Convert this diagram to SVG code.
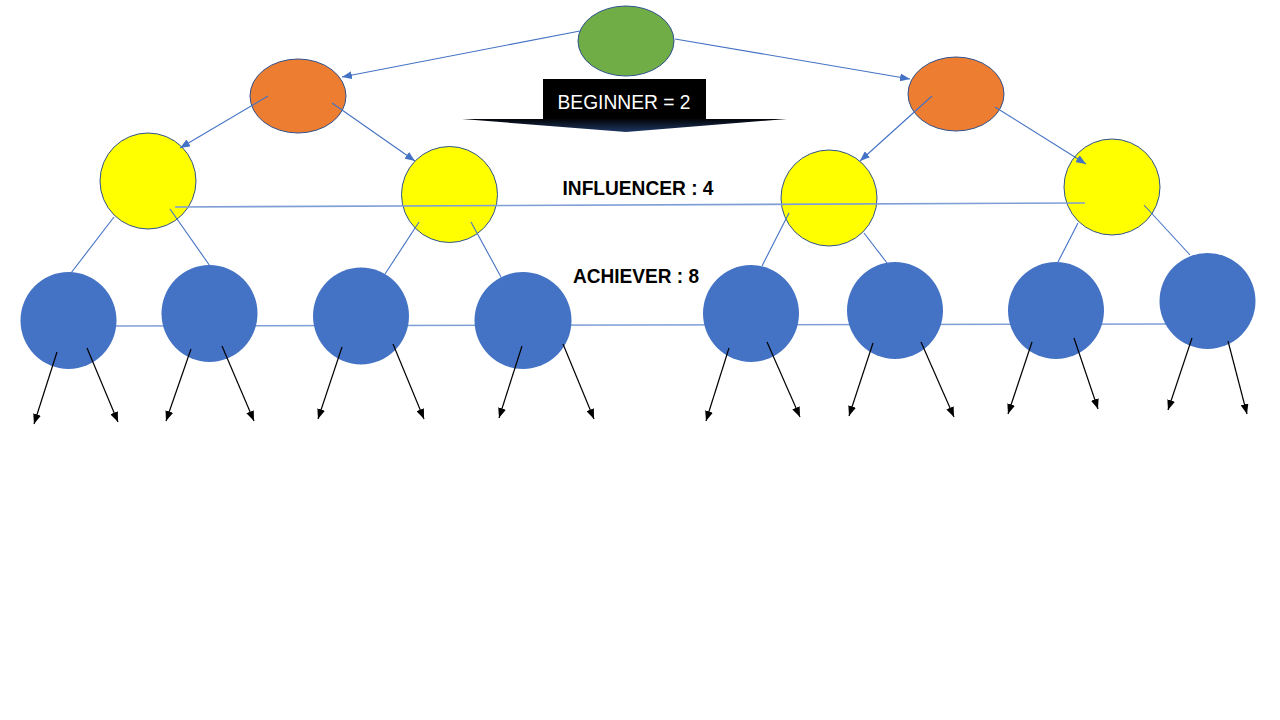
<svg xmlns="http://www.w3.org/2000/svg" width="1280" height="720" viewBox="0 0 1280 720">
  <style>
    .green { fill: #70AD47; stroke: #2F528F; stroke-width: 1; }
    .orange { fill: #ED7D31; stroke: #2F528F; stroke-width: 1; }
    .yellow { fill: #FFFF00; stroke: #2F528F; stroke-width: 1; }
    .blue { fill: #4472C4; stroke: none; }
    .bl { stroke: #4472C4; stroke-width: 1.1; fill: none; }
    .blA { stroke: #4472C4; stroke-width: 1.1; fill: none; marker-end: url(#blueArrow); }
    .hl { stroke: #7F9ED6; stroke-width: 1.6; fill: none; }
    .kA { stroke: #000; stroke-width: 1.2; fill: none; marker-end: url(#blackArrow); }
    .lbl { font-family: "Liberation Sans", Arial, sans-serif; font-weight: bold; font-size: 21px; fill: #000; }
    .wlbl { font-family: "Liberation Sans", Arial, sans-serif; font-size: 21px; fill: #fff; }
  </style>
  <defs>
    <marker id="blueArrow" markerUnits="userSpaceOnUse" markerWidth="10" markerHeight="8" refX="10" refY="4" orient="auto">
      <path d="M0,0 L10,4 L0,8 z" fill="#4472C4"/>
    </marker>
    <marker id="blackArrow" markerUnits="userSpaceOnUse" markerWidth="10" markerHeight="8" refX="10" refY="4" orient="auto">
      <path d="M0,0 L10,4 L0,8 z" fill="#000"/>
    </marker>
    <linearGradient id="wing" gradientUnits="userSpaceOnUse" x1="0" y1="118" x2="0" y2="132">
      <stop offset="0" stop-color="#000"/>
      <stop offset="1" stop-color="#1F3864"/>
    </linearGradient>
  </defs>
  <rect width="1280" height="720" fill="#fff"/>

  <g id="connectors-back">
    <line class="hl" x1="100" y1="326" x2="1180" y2="324"/>
  </g>

  <g id="label-beginner">
    <polygon points="543,79 706,79 706,119 787,119 626,132 462,119 543,119" fill="url(#wing)"/>
    <rect x="543" y="79" width="163" height="40" fill="#000"/>
    <text class="wlbl" x="624" y="109" text-anchor="middle" textLength="133" lengthAdjust="spacingAndGlyphs">BEGINNER = 2</text>
  </g>

  <g id="node-root"><ellipse class="green" cx="626" cy="41" rx="48" ry="35"/></g>
  <g id="node-o1"><ellipse class="orange" cx="298" cy="96" rx="48" ry="37"/></g>
  <g id="node-o2"><ellipse class="orange" cx="956" cy="94" rx="48" ry="37"/></g>

  <g id="node-y1"><circle class="yellow" cx="148" cy="181" r="48"/></g>
  <g id="node-y2"><circle class="yellow" cx="449.5" cy="194.5" r="48"/></g>
  <g id="node-y3"><circle class="yellow" cx="829" cy="198" r="48"/></g>
  <g id="node-y4"><circle class="yellow" cx="1112" cy="187" r="48"/></g>

  <g id="node-b1"><ellipse class="blue" cx="68.5" cy="320.5" rx="48" ry="48.5"/></g>
  <g id="node-b2"><ellipse class="blue" cx="209.5" cy="313.5" rx="48" ry="48.5"/></g>
  <g id="node-b3"><ellipse class="blue" cx="361" cy="316" rx="48" ry="48.5"/></g>
  <g id="node-b4"><ellipse class="blue" cx="523" cy="320.5" rx="48.5" ry="48.5"/></g>
  <g id="node-b5"><ellipse class="blue" cx="751" cy="313.5" rx="48" ry="48.5"/></g>
  <g id="node-b6"><ellipse class="blue" cx="895" cy="310.5" rx="48" ry="48.5"/></g>
  <g id="node-b7"><ellipse class="blue" cx="1056" cy="310.5" rx="48" ry="48.5"/></g>
  <g id="node-b8"><ellipse class="blue" cx="1207.5" cy="301" rx="48" ry="48"/></g>

  <g id="label-influencer">
    <text class="lbl" x="638" y="195" text-anchor="middle" textLength="151" lengthAdjust="spacingAndGlyphs">INFLUENCER : 4</text>
  </g>
  <g id="label-achiever">
    <text class="lbl" x="636" y="283" text-anchor="middle" textLength="126" lengthAdjust="spacingAndGlyphs">ACHIEVER : 8</text>
  </g>

  <g id="connectors">
    <line class="blA" x1="580" y1="31" x2="342" y2="77"/>
    <line class="blA" x1="675" y1="39" x2="910" y2="79"/>
    <line class="blA" x1="268" y1="96" x2="180" y2="148"/>
    <line class="blA" x1="332" y1="103" x2="415" y2="161"/>
    <line class="blA" x1="932" y1="96" x2="860" y2="161"/>
    <line class="blA" x1="995" y1="107" x2="1086" y2="164"/>

    <line class="hl" x1="175" y1="207" x2="1085" y2="203"/>

    <line class="bl" x1="114" y1="217" x2="71" y2="273"/>
    <line class="bl" x1="170" y1="209" x2="210" y2="266"/>
    <line class="bl" x1="419" y1="222" x2="385" y2="274"/>
    <line class="bl" x1="471" y1="222" x2="501" y2="277"/>
    <line class="bl" x1="789" y1="213" x2="762" y2="266"/>
    <line class="bl" x1="864" y1="233" x2="887" y2="263"/>
    <line class="bl" x1="1078" y1="223" x2="1058" y2="262"/>
    <line class="bl" x1="1144" y1="205" x2="1190" y2="255"/>

    <line class="kA" x1="57" y1="352" x2="34" y2="424"/>
    <line class="kA" x1="87" y1="348" x2="118" y2="422"/>
    <line class="kA" x1="191" y1="349" x2="166" y2="421"/>
    <line class="kA" x1="222" y1="346" x2="254" y2="421"/>
    <line class="kA" x1="342" y1="347" x2="318" y2="419"/>
    <line class="kA" x1="393" y1="344" x2="424" y2="419"/>
    <line class="kA" x1="522" y1="346" x2="499" y2="418"/>
    <line class="kA" x1="563" y1="344" x2="594" y2="419"/>
    <line class="kA" x1="729" y1="348" x2="706" y2="421"/>
    <line class="kA" x1="767" y1="342" x2="800" y2="417"/>
    <line class="kA" x1="873" y1="343" x2="849" y2="416"/>
    <line class="kA" x1="921" y1="342" x2="954" y2="417"/>
    <line class="kA" x1="1032" y1="342" x2="1008" y2="414"/>
    <line class="kA" x1="1074" y1="338" x2="1098" y2="409"/>
    <line class="kA" x1="1192" y1="338" x2="1168" y2="410"/>
    <line class="kA" x1="1228" y1="341" x2="1247" y2="414"/>
  </g>
</svg>
